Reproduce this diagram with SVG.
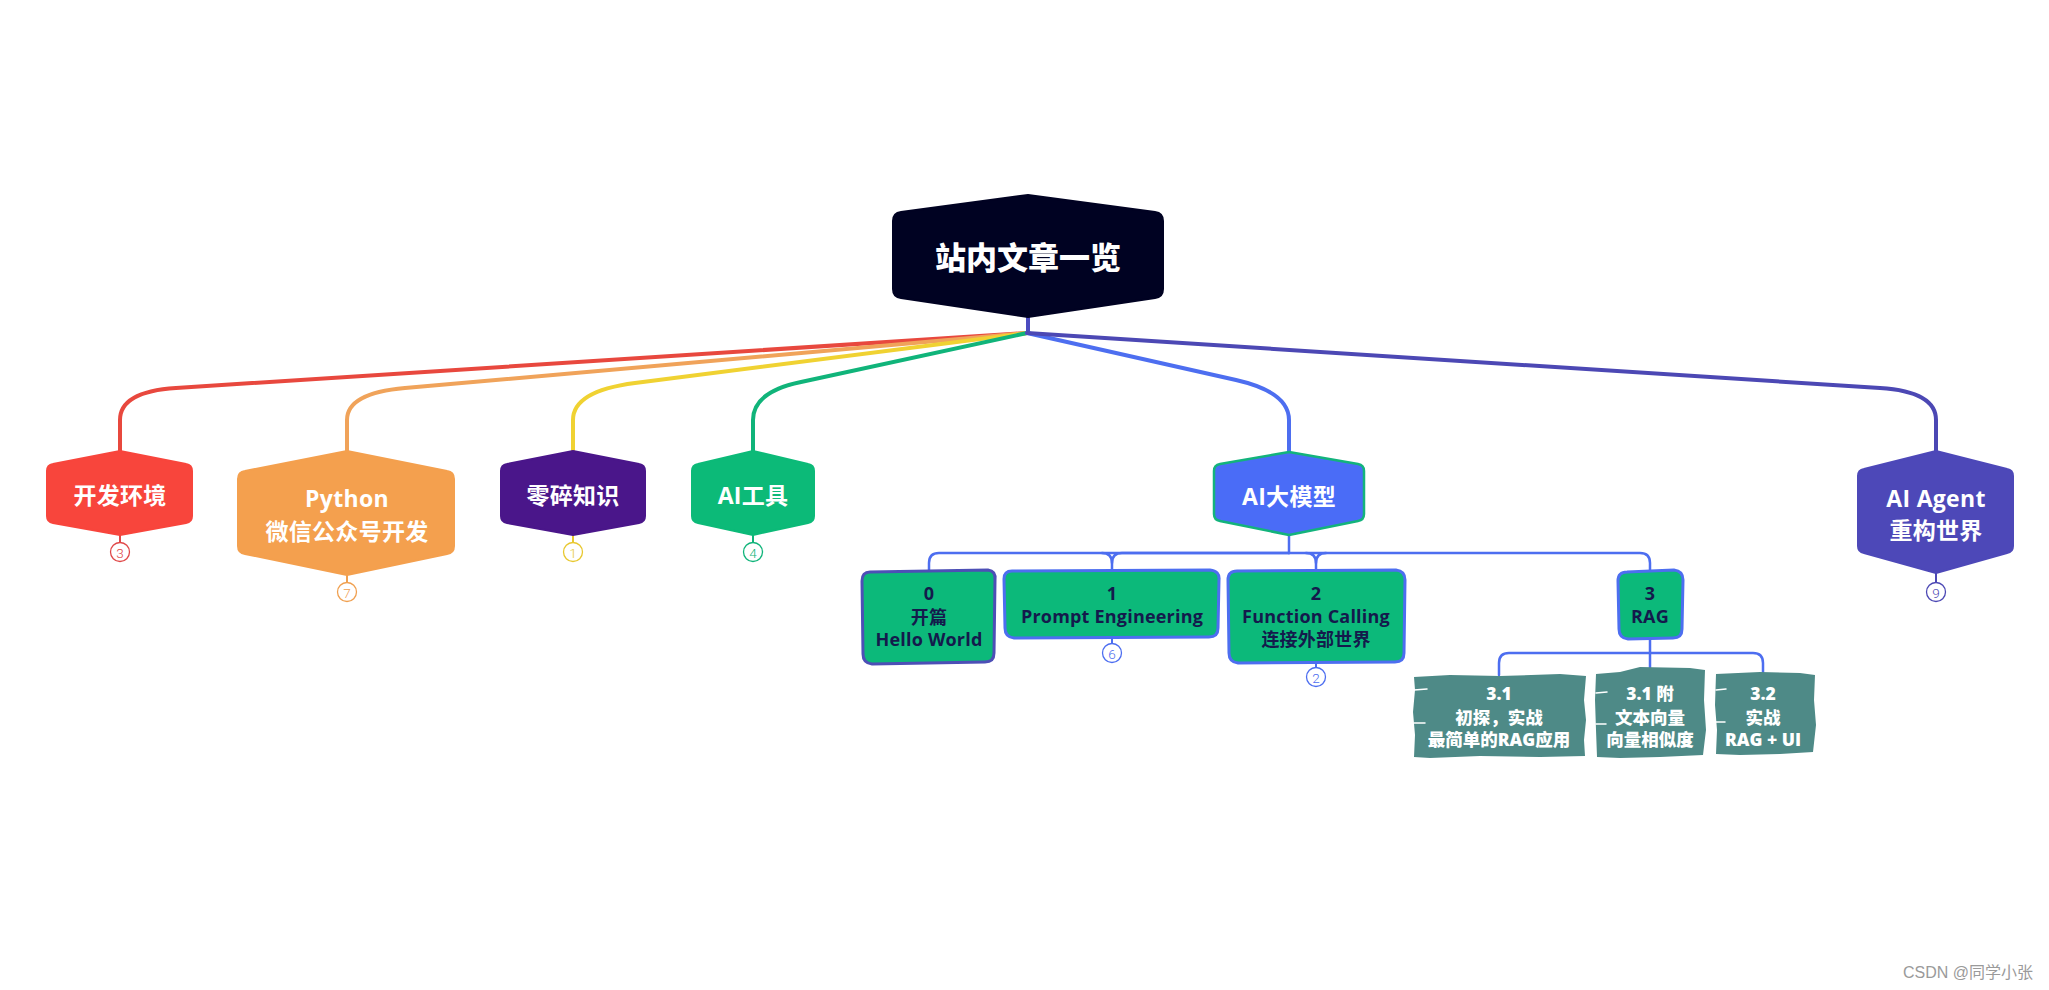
<svg xmlns="http://www.w3.org/2000/svg" width="2049" height="990" viewBox="0 0 2049 990">
<style>
.t{font-family:"Open Sans","Noto Sans CJK SC",sans-serif;font-weight:700;text-anchor:middle;dominant-baseline:central}
.w{fill:#ffffff}
.l1{font-size:23px;letter-spacing:0.3px}
.l2{font-size:18px;fill:#141a4c;letter-spacing:0.2px}
.l3{font-size:17.5px;fill:#ffffff;font-weight:800}
.root{font-size:31px;fill:#ffffff;font-weight:800}
.conn{fill:none;stroke-width:4;stroke-linecap:round;stroke-linejoin:round}
.sub{fill:none;stroke:#4d6ef0;stroke-width:2.5;stroke-linecap:round}
.badge{fill:#ffffff;stroke-width:1.3}
.bt{font-family:Roboto,"Liberation Sans",sans-serif;font-size:13.5px;text-anchor:middle;dominant-baseline:central;font-weight:300}
.sk{stroke-width:3;stroke-linejoin:round}
.dash{stroke:#ffffff;stroke-width:1.5;stroke-linecap:round}
</style>
<rect width="2049" height="990" fill="#ffffff"/>

<g id="connectors">
  <line x1="1028" y1="317" x2="1028" y2="333" stroke="#4c4cc0" stroke-width="4"/>
  <path class="conn" stroke="#e8483e" d="M1027,333 L176,388 Q120,391.6 120,420 L120,451"/>
  <path class="conn" stroke="#f0a35a" d="M1027,333 L405,388 Q347,393 347,420 L347,451"/>
  <path class="conn" stroke="#f0d232" d="M1027,333 L635,383 Q573,391 573,420 L573,451"/>
  <path class="conn" stroke="#10b47a" d="M1027,333 L801,382 Q753,392 753,420 L753,451"/>
  <path class="conn" stroke="#4d6ef0" d="M1027,333 L1236,380 Q1289,392 1289,420 L1289,452"/>
  <path class="conn" stroke="#4c48b4" d="M1027,333 L1880,388 Q1936,391.6 1936,420 L1936,451"/>
  <!-- AI大模型 children -->
  <path class="sub" d="M1289,535 L1289,553"/>
  <path class="sub" d="M1289,553 L939,553 Q929,553 929,563 L929,571"/>
  <path class="sub" d="M1289,553 L1122,553 Q1112,553 1112,563 L1112,570"/>
  <path class="sub" d="M1102,553 Q1112,553 1112,563"/>
  <path class="sub" d="M1289,553 L1640,553 Q1650,553 1650,563 L1650,571"/>
  <path class="sub" d="M1306,553 Q1316,553 1316,563 L1316,570"/>
  <path class="sub" d="M1326,553 Q1316,553 1316,563"/>
  <!-- RAG children -->
  <path class="sub" d="M1650,638 L1650,673"/>
  <path class="sub" d="M1650,653 L1509,653 Q1499,653 1499,663 L1499,675"/>
  <path class="sub" d="M1650,653 L1753,653 Q1763,653 1763,663 L1763,673"/>
  <!-- badge stems -->
  <g stroke-width="2">
    <line x1="120" y1="535" x2="120" y2="543" stroke="#e04848"/>
    <line x1="347" y1="575" x2="347" y2="583" stroke="#f0a050"/>
    <line x1="573" y1="535" x2="573" y2="543" stroke="#e8c830"/>
    <line x1="753" y1="535" x2="753" y2="543" stroke="#10b47a"/>
    <line x1="1936" y1="573" x2="1936" y2="583" stroke="#4c48b4"/>
    <line x1="1112" y1="637" x2="1112" y2="644" stroke="#4d6ef0"/>
    <line x1="1316" y1="662" x2="1316" y2="668" stroke="#4d6ef0"/>
  </g>
</g>

<g id="root">
  <path fill="#000222" stroke="#000222" stroke-width="2" stroke-linejoin="round" d="M1028,195 L1155,212 Q1163,213 1163,221 L1163,289 Q1163,297 1155,298 L1028,317 L901,298 Q893,297 893,289 L893,221 Q893,213 901,212 Z"/>
  <text class="t root" x="1028" y="257">站内文章一览</text>
</g>

<g id="node-kaifa">
  <path fill="#f8453c" stroke="#f8453c" stroke-width="2" stroke-linejoin="round" d="M120,451 L186,464 Q192,465 192,471 L192,516 Q192,522 186,523 L120,535 L53,523 Q47,522 47,516 L47,471 Q47,465 53,464 Z"/>
  <text class="t l1 w" x="120" y="495">开发环境</text>
  <circle class="badge" cx="120" cy="552" r="9.5" stroke="#e04848"/>
  <text class="bt" x="120" y="552.5" fill="#e04848">3</text>
</g>

<g id="node-python">
  <path fill="#f4a04e" stroke="#f4a04e" stroke-width="2" stroke-linejoin="round" d="M347,451 L447,471 Q454,472 454,479 L454,546 Q454,553 447,554 L347,575 L245,554 Q238,553 238,546 L238,479 Q238,472 245,471 Z"/>
  <text class="t l1 w" x="347" y="498">Python</text>
  <text class="t l1 w" x="347" y="531">微信公众号开发</text>
  <circle class="badge" cx="347" cy="592" r="9.5" stroke="#f0a050"/>
  <text class="bt" x="347" y="592.5" fill="#f0a050">7</text>
</g>

<g id="node-lingsui">
  <path fill="#4a168a" stroke="#4a168a" stroke-width="2" stroke-linejoin="round" d="M573,451 L639,464 Q645,465 645,471 L645,516 Q645,522 639,523 L573,535 L507,523 Q501,522 501,516 L501,471 Q501,465 507,464 Z"/>
  <text class="t l1 w" x="573" y="495">零碎知识</text>
  <circle class="badge" cx="573" cy="552" r="9.5" stroke="#e8c830"/>
  <text class="bt" x="573" y="552.5" fill="#e8c830">1</text>
</g>

<g id="node-aitools">
  <path fill="#0cba78" stroke="#0cba78" stroke-width="2" stroke-linejoin="round" d="M753,451 L808,464 Q814,465 814,471 L814,516 Q814,522 808,523 L753,535 L698,523 Q692,522 692,516 L692,471 Q692,465 698,464 Z"/>
  <text class="t l1 w" x="753" y="495">AI工具</text>
  <circle class="badge" cx="753" cy="552" r="9.5" stroke="#10b47a"/>
  <text class="bt" x="753" y="552.5" fill="#10b47a">4</text>
</g>

<g id="node-llm">
  <path fill="#4a6cf7" stroke="#13b37c" stroke-width="2.5" stroke-linejoin="round" d="M1289,452 L1358,464 Q1364,465 1364,471 L1364,514 Q1364,520 1358,521 L1289,535 L1220,521 Q1214,520 1214,514 L1214,471 Q1214,465 1220,464 Z"/>
  <text class="t l1 w" x="1289" y="496">AI大模型</text>
</g>

<g id="node-agent">
  <path fill="#4d48b8" stroke="#4d48b8" stroke-width="2" stroke-linejoin="round" d="M1936,451 L2007,469 Q2013,470 2013,476 L2013,546 Q2013,552 2007,553 L1936,573 L1864,553 Q1858,552 1858,546 L1858,476 Q1858,470 1864,469 Z"/>
  <text class="t l1 w" x="1936" y="498">AI Agent</text>
  <text class="t l1 w" x="1936" y="530">重构世界</text>
  <circle class="badge" cx="1936" cy="592" r="9.5" stroke="#4c48b4"/>
  <text class="bt" x="1936" y="592.5" fill="#4c48b4">9</text>
</g>

<g id="node-0">
  <path class="sk" fill="#0cb97a" stroke="#4d4fb6" d="M870,572 L988,570 Q996,571 995,580 L994,653 Q994,662 985,662 L872,664 Q863,663 863,654 L862,581 Q862,572 870,572 Z"/>
  <text class="t l2" x="929" y="593">0</text>
  <text class="t l2" x="929" y="617">开篇</text>
  <text class="t l2" x="929" y="639">Hello World</text>
</g>

<g id="node-1">
  <path class="sk" fill="#0cb97a" stroke="#4d6ef0" d="M1012,571 L1210,570 Q1220,571 1219,580 L1218,628 Q1218,637 1209,637 L1014,638 Q1005,637 1005,628 L1004,579 Q1004,571 1012,571 Z"/>
  <text class="t l2" x="1112" y="593">1</text>
  <text class="t l2" x="1112" y="616">Prompt Engineering</text>
  <circle class="badge" cx="1112" cy="653" r="9.5" stroke="#4d6ef0"/>
  <text class="bt" x="1112" y="653.5" fill="#4d6ef0">6</text>
</g>

<g id="node-2">
  <path class="sk" fill="#0cb97a" stroke="#4d6ef0" d="M1237,571 L1396,570 Q1405,571 1405,580 L1404,653 Q1404,662 1395,662 L1238,663 Q1229,662 1229,653 L1228,580 Q1228,571 1237,571 Z"/>
  <text class="t l2" x="1316" y="593">2</text>
  <text class="t l2" x="1316" y="616">Function Calling</text>
  <text class="t l2" x="1316" y="639">连接外部世界</text>
  <circle class="badge" cx="1316" cy="677" r="9.5" stroke="#4d6ef0"/>
  <text class="bt" x="1316" y="677.5" fill="#4d6ef0">2</text>
</g>

<g id="node-3">
  <path class="sk" fill="#0cb97a" stroke="#4d6ef0" d="M1627,572 L1674,570 Q1683,571 1683,580 L1682,629 Q1682,638 1673,638 L1628,639 Q1619,638 1619,629 L1618,581 Q1618,572 1627,572 Z"/>
  <text class="t l2" x="1650" y="593">3</text>
  <text class="t l2" x="1650" y="616">RAG</text>
</g>

<g id="node-3-1">
  <polygon fill="#4e8a87" points="1414,677 1450,675 1500,676 1560,674 1586,676 1584,700 1586,720 1584,740 1585,756 1540,757 1480,756 1430,758 1414,757 1415,735 1413,712 1415,690"/>
  <line class="dash" x1="1414" y1="690" x2="1427" y2="689"/>
  <line class="dash" x1="1414" y1="723" x2="1425" y2="723"/>
  <text class="t l3" x="1499" y="693">3.1</text>
  <text class="t l3" x="1499" y="717">初探，实战</text>
  <text class="t l3" x="1499" y="739">最简单的RAG应用</text>
</g>

<g id="node-3-1a">
  <polygon fill="#4e8a87" points="1596,674 1620,672 1640,667 1690,668 1705,670 1704,700 1706,730 1703,755 1660,757 1620,758 1597,757 1596,730 1595,700"/>
  <line class="dash" x1="1596" y1="693" x2="1607" y2="692"/>
  <line class="dash" x1="1596" y1="724" x2="1606" y2="724"/>
  <text class="t l3" x="1650" y="693">3.1 附</text>
  <text class="t l3" x="1650" y="717">文本向量</text>
  <text class="t l3" x="1650" y="739">向量相似度</text>
</g>

<g id="node-3-2">
  <polygon fill="#4e8a87" points="1716,674 1760,672 1800,673 1815,675 1814,700 1816,725 1813,752 1780,754 1740,755 1716,754 1717,730 1715,705"/>
  <line class="dash" x1="1716" y1="690" x2="1726" y2="689"/>
  <line class="dash" x1="1716" y1="722" x2="1725" y2="722"/>
  <text class="t l3" x="1763" y="693">3.2</text>
  <text class="t l3" x="1763" y="717">实战</text>
  <text class="t l3" x="1763" y="739">RAG + UI</text>
</g>

<text x="2033" y="978" text-anchor="end" font-family="'Liberation Sans','Noto Sans CJK SC',sans-serif" font-size="16" fill="#9a9a9a">CSDN @同学小张</text>
</svg>
